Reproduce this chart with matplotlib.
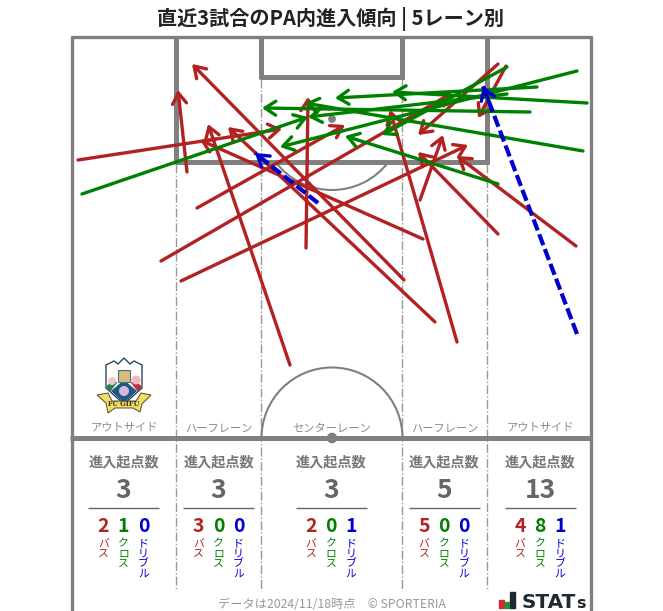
import matplotlib
matplotlib.use("Agg")
import matplotlib.pyplot as plt
from matplotlib.patches import Arc, Circle, Polygon, Rectangle

plt.rcParams['font.family'] = ['Noto Sans CJK JP', 'DejaVu Sans']

# start -> end of each entry, in picture pixels
pass_start = [(78,160),(161,261),(197,208),(181,281),(187,172),(306,248),(290,365),(404,280),
              (423,239),(435,322),(420,200),(457,342),(498,234),(576,246),(506,66),(498,64)]
pass_end = [(282,129),(452,93),(345,125),(468,145),(178,90),(308,97),(208,124),(192,64),
            (200,140),(228,127),(443,135),(390,110),(418,152),(457,156),(478,118),(418,135)]
cross_start = [(82,194),(577,71),(587,103),(583,151),(537,87),(530,112),(507,67),(507,94),(498,184)]
cross_end = [(308,117),(280,147),(392,92),(305,103),(335,98),(262,108),(382,135),(308,117),(345,136)]
dribble_start = [(318,203),(577,334)]
dribble_end = [(255,153),(483,86)]

zone_names = ["アウトサイド", "ハーフレーン", "センターレーン", "ハーフレーン", "アウトサイド"]
zone_x = [123.5, 218.5, 331, 444, 540]
zone_total = [3, 3, 3, 5, 13]
zone_pass = [2, 3, 2, 5, 4]
zone_cross = [1, 0, 0, 0, 8]
zone_dribble = [0, 0, 1, 0, 1]

RED = "#b22222"
GREEN = "#008000"
BLUE = "#0000cd"
GREY = "#808080"

fig = plt.figure(figsize=(6.63, 6.11), dpi=100)
ax = fig.add_axes([0, 0, 1, 1])
ax.set_xlim(0, 663)
ax.set_ylim(611, 0)
ax.axis("off")


def hline(x1, x2, y, lw, c=GREY):
    ax.plot([x1, x2], [y, y], color=c, lw=lw, solid_capstyle="butt", zorder=2)


def vline(x, y1, y2, lw, c=GREY):
    ax.plot([x, x], [y1, y2], color=c, lw=lw, solid_capstyle="butt", zorder=2)


# pitch
vline(72, 36, 611, 2.4)
vline(590.5, 36, 611, 2.4)
hline(71, 592, 37, 2.4)
hline(70, 592, 438, 3.6)
vline(176, 37, 164, 3.6)
vline(487, 37, 164, 3.6)
hline(174.5, 489, 162, 3.6)
vline(261, 37, 79, 3.6)
vline(402, 37, 79, 3.6)
hline(259.5, 404, 77, 3.6)
for x in [176, 487]:
    ax.plot([x, x], [164, 591], color="#999999", lw=1, ls="-.", zorder=1)
for x in [261, 402]:
    ax.plot([x, x], [79, 591], color="#999999", lw=1, ls="-.", zorder=1)
ax.add_patch(Arc((332, 119), 142, 142, theta1=37, theta2=143, color=GREY, lw=1.5, zorder=2))
ax.add_patch(Arc((332, 438), 141, 141, theta1=180, theta2=360, color=GREY, lw=1.5, zorder=2))
ax.add_patch(Circle((332, 119), 3.2, color=GREY, zorder=2))
ax.add_patch(Circle((332, 438), 4.6, color=GREY, zorder=2))


def arrow(a, b, c, z, dashed=False):
    if dashed:
        ax.plot([a[0], b[0]], [a[1], b[1]], color=c, lw=3, ls=(0, (2.8, 1)), zorder=z)
        a = (b[0] + (a[0] - b[0]) * 0.1, b[1] + (a[1] - b[1]) * 0.1)
    ax.annotate("", xy=b, xytext=a, zorder=z,
                arrowprops=dict(arrowstyle="->,head_length=0.55,head_width=0.36", color=c, lw=2.4,
                                shrinkA=0, shrinkB=0, mutation_scale=14))


for a, b in zip(pass_start, pass_end):
    arrow(a, b, RED, 3)
for a, b in zip(cross_start, cross_end):
    arrow(a, b, GREEN, 4)
for a, b in zip(dribble_start, dribble_end):
    arrow(a, b, BLUE, 5, dashed=True)

# title
ax.text(330.5, 19, "直近3試合のPA内進入傾向 | 5レーン別", ha="center", va="center",
        fontsize=14.5, fontweight="bold", color="#222222")

# lane boxes
for i in range(5):
    x = zone_x[i]
    ax.text(x + 0.5, 428.5, zone_names[i], ha="center", va="center", fontsize=8.1, color="#8a8a8a")
    ax.text(x, 462, "進入起点数", ha="center", va="center", fontsize=10.2, fontweight="bold", color="#777777")
    ax.text(x, 491, str(zone_total[i]), ha="center", va="center", fontsize=19, fontweight="bold", color="#666666")
    hline(x - 35.5, x + 35.5, 508, 1, "#666666")
    for dx, v, c, name in [(-20, zone_pass[i], RED, "バス"),
                           (0, zone_cross[i], GREEN, "クロス"),
                           (20, zone_dribble[i], BLUE, "ドリブル")]:
        ax.text(x + dx, 526, str(v), ha="center", va="center", fontsize=14, fontweight="bold", color=c)
        for k, ch in enumerate(name):
            ax.text(x + dx, 543.5 + k * 10, ch, ha="center", va="center", fontsize=7.8, color=c)

# footer
ax.text(331.5, 604, "データは2024/11/18時点　© SPORTERIA", ha="center", va="center", fontsize=8.8, color="#999999")

# stats logo
ax.add_patch(Rectangle((499, 600), 5, 8, color="#d9272e", zorder=3))
ax.add_patch(Rectangle((505, 602), 4, 6, color="#1a9a3c", zorder=3))
ax.add_patch(Rectangle((510, 592), 5, 16, color="#1f2a30", zorder=3))
ax.text(522, 608, "STAT", ha="left", va="baseline", fontsize=14.4, fontweight="bold",
        family="DejaVu Sans", color="#1f2a30")
ax.text(576.5, 608, "s", ha="left", va="baseline", fontsize=11.5, fontweight="bold",
        family="DejaVu Sans", color="#1f2a30")

# club crest, rough shape
ax.add_patch(Polygon([(106,365),(114,361),(118,364),(124,358),(130,364),(134,361),(142,365),
                      (142,388),(124,404),(106,388)], closed=True, fc="white", ec="#29465f", lw=1, zorder=3))
ax.add_patch(Polygon([(124,380),(137,391),(124,403),(111,391)], closed=True, fc="#1c5a86", zorder=4))
ax.add_patch(Polygon([(106,387),(114,378),(117,383),(110,392)], closed=True, fc="#2e7d4f", zorder=4))
ax.add_patch(Polygon([(142,387),(134,378),(131,383),(138,392)], closed=True, fc="#b5333f", zorder=4))
ax.add_patch(Circle((112,381), 4, fc="#ecc9c9", zorder=5))
ax.add_patch(Circle((136,380), 4.5, fc="#f0b9bd", zorder=5))
ax.add_patch(Rectangle((118, 370), 12, 12, fc="#d9bb7a", ec="#48718f", lw=0.8, zorder=5))
ax.add_patch(Circle((124,391), 5, fc="#d8b8d8", zorder=5))
ax.add_patch(Polygon([(97,395),(108,393),(112,401),(136,401),(141,393),(151,395),(142,404),(140,412),
                      (133,408),(115,408),(108,413),(106,403)], closed=True, fc="#f1dd6a", ec="#554a20", lw=0.7, zorder=6))
ax.text(124, 404.5, "FC GIFU", ha="center", va="center", fontsize=4.8, fontweight="bold",
        family="DejaVu Serif", color="#333322", zorder=7)

fig.savefig("out.png", dpi=100)
